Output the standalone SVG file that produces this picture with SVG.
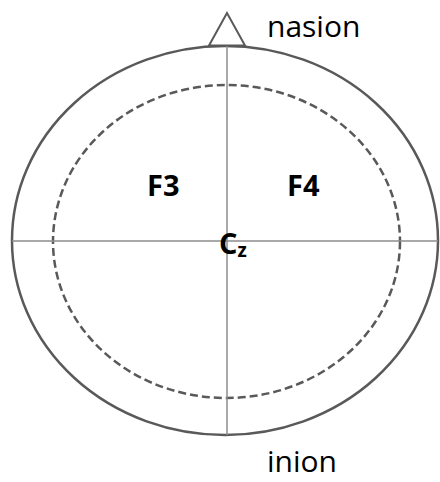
<svg xmlns="http://www.w3.org/2000/svg" width="440" height="482" viewBox="0 0 440 482">
<style>
.head{fill:none;stroke:#595959;stroke-width:2.5}
.inner{fill:none;stroke:#595959;stroke-width:2.5;stroke-dasharray:8 4}
.axis{stroke:#8c8c8c;stroke-width:1.5;fill:none}
.lbl{font-family:"Open Sans","Liberation Sans",sans-serif;font-size:30px;fill:#000}
.el{font-family:"Open Sans","Liberation Sans",sans-serif;font-size:29px;font-weight:bold;fill:#000}
</style>
<rect width="440" height="482" fill="#fff"/>
<g id="head">
<ellipse class="head" cx="225" cy="240.5" rx="213" ry="194.5"/>
</g>
<g id="nose">
<polygon points="227,13 209,45.5 245,45.5" fill="#fff" stroke="#595959" stroke-width="2"/>
</g>
<g id="inner">
<ellipse class="inner" cx="226.5" cy="241.5" rx="173.5" ry="156.5"/>
</g>
<g id="connectors">
<line class="axis" x1="12" y1="241" x2="438" y2="241"/>
<line class="axis" x1="227" y1="46" x2="227" y2="435"/>
</g>
<g id="nasion"><text class="lbl" x="267" y="37">nasion</text></g>
<g id="inion"><text class="lbl" x="267" y="472">inion</text></g>
<g id="F3"><text class="el" x="147" y="196">F3</text></g>
<g id="F4"><text class="el" x="287" y="196">F4</text></g>
<g id="Cz"><text class="el" x="219" y="254">C<tspan font-size="19" dy="3">z</tspan></text></g>
</svg>
